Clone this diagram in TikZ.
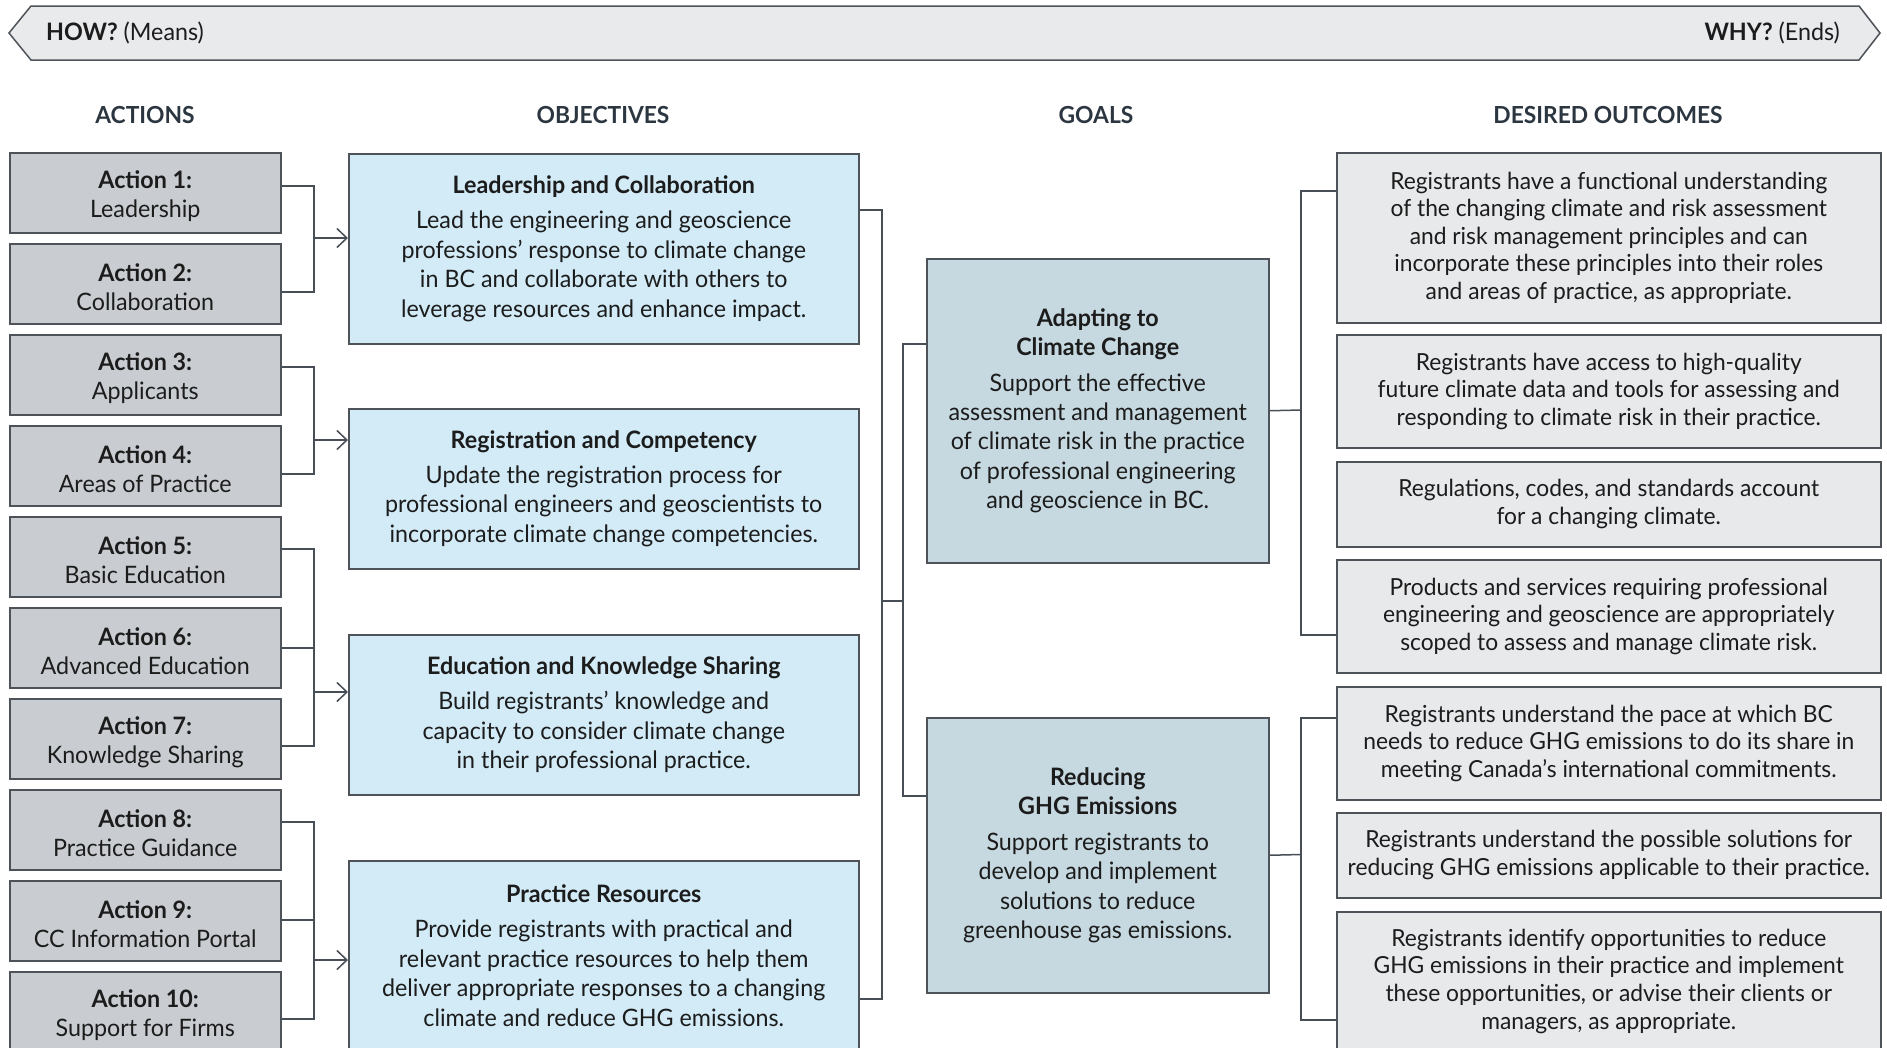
\documentclass[tikz,border=0pt]{standalone}
\usepackage{fontspec}
\setmainfont{Lato}[FakeStretch=0.97]
\usetikzlibrary{arrows.meta}
\definecolor{linec}{HTML}{474E55}
\definecolor{boxline}{HTML}{4D5359}
\definecolor{actfill}{HTML}{C9CDD1}
\definecolor{objfill}{HTML}{D2EBF7}
\definecolor{goalfill}{HTML}{C6D8E0}
\definecolor{outfill}{HTML}{E8E9EB}
\definecolor{bannerfill}{HTML}{E9EAEC}
\definecolor{txt}{HTML}{1C1C1C}
\definecolor{hdrc}{HTML}{2C3640}
\newcommand{\actfirst}{\rule{0pt}{25pt}}
\begin{document}
\begin{tikzpicture}[x=1pt,y=-1pt,
  box/.style={draw=boxline, line width=1.5pt, anchor=north west, inner sep=0pt, align=center, text=txt, font=\fontsize{24}{29.4}\selectfont},
  actbox/.style={box, fill=actfill, minimum width=271pt, minimum height=80pt, font=\fontsize{24}{29}\selectfont},
  objbox/.style={box, fill=objfill, minimum width=510pt},
  goalbox/.style={box, fill=goalfill, minimum width=342pt},
  outbox/.style={box, fill=outfill, minimum width=544pt, font=\fontsize{23.5}{27.6}\selectfont},
  hdr/.style={font=\fontsize{23.5}{28}\selectfont\bfseries, text=hdrc},
  bantext/.style={font=\fontsize{24}{28}\selectfont, text=txt, inner sep=0pt},
  conn/.style={draw=linec, line width=1.5pt},
  arr/.style={conn, -{Straight Barb[length=10pt,width=19pt]}}
]
\useasboundingbox (0,0) rectangle (1887,1047);
\clip (0,0) rectangle (1887,1047);

% banner
\draw[draw=boxline, fill=bannerfill, line width=1.5pt] (31,6) -- (1859,6) -- (1880,33) -- (1859,60) -- (31,60) -- (9,33) -- cycle;
\node[bantext, anchor=west] (how) at (46,33) {\textbf{HOW?} (Means)};
\node[bantext, anchor=east] (why) at (1840,33) {\textbf{WHY?} (Ends)};

% headers
\node[hdr] (h1) at (145,115.5) {ACTIONS};
\node[hdr] (h2) at (603,115.5) {OBJECTIVES};
\node[hdr] (h3) at (1096,115.5) {GOALS};
\node[hdr] (h4) at (1608,115.5) {DESIRED OUTCOMES};

% actions
\node[actbox] (a1) at (9,152) {\actfirst\textbf{Action 1:}\\Leadership};
\node[actbox] (a2) at (9,243) {\actfirst\textbf{Action 2:}\\Collaboration};
\node[actbox] (a3) at (9,334) {\actfirst\textbf{Action 3:}\\Applicants};
\node[actbox] (a4) at (9,425) {\actfirst\textbf{Action 4:}\\Areas of Practice};
\node[actbox] (a5) at (9,516) {\actfirst\textbf{Action 5:}\\Basic Education};
\node[actbox] (a6) at (9,607) {\actfirst\textbf{Action 6:}\\Advanced Education};
\node[actbox] (a7) at (9,698) {\actfirst\textbf{Action 7:}\\Knowledge Sharing};
\node[actbox] (a8) at (9,789) {\actfirst\textbf{Action 8:}\\Practice Guidance};
\node[actbox] (a9) at (9,880) {\actfirst\textbf{Action 9:}\\CC Information Portal};
\node[actbox] (a10) at (9,971) {\actfirst\textbf{Action 10:}\\Support for Firms};

% objectives
\node[objbox, minimum height=190pt] (o1) at (348,153) {\textbf{Leadership and Collaboration}\\[5.6pt]Lead the engineering and geoscience\\professions’ response to climate change\\in BC and collaborate with others to\\leverage resources and enhance impact.};
\node[objbox, minimum height=160pt] (o2) at (348,408) {\textbf{Registration and Competency}\\[5.6pt]Update the registration process for\\professional engineers and geoscientists to\\incorporate climate change competencies.};
\node[objbox, minimum height=160pt] (o3) at (348,634) {\textbf{Education and Knowledge Sharing}\\[5.6pt]Build registrants’ knowledge and\\capacity to consider climate change\\in their professional practice.};
\node[objbox, minimum height=190pt] (o4) at (348,860) {\textbf{Practice Resources}\\[5.6pt]Provide registrants with practical and\\relevant practice resources to help them\\deliver appropriate responses to a changing\\climate and reduce GHG emissions.};

% goals
\node[goalbox, minimum height=304pt] (g1) at (926,258) {\textbf{Adapting to}\\\textbf{Climate Change}\\[6pt]Support the effective\\assessment and management\\of climate risk in the practice\\of professional engineering\\and geoscience in BC.};
\node[goalbox, minimum height=275pt] (g2) at (926,717) {\textbf{Reducing}\\\textbf{GHG Emissions}\\[6pt]Support registrants to\\develop and implement\\solutions to reduce\\greenhouse gas emissions.};

% outcomes
\node[outbox, minimum height=170pt] (u1) at (1336,152) {Registrants have a functional understanding\\of the changing climate and risk assessment\\and risk management principles and can\\incorporate these principles into their roles\\and areas of practice, as appropriate.};
\node[outbox, minimum height=113pt] (u2) at (1336,334) {Registrants have access to high-quality\\future climate data and tools for assessing and\\responding to climate risk in their practice.};
\node[outbox, minimum height=85pt] (u3) at (1336,461) {Regulations, codes, and standards account\\for a changing climate.};
\node[outbox, minimum height=113pt] (u4) at (1336,559) {Products and services requiring professional\\engineering and geoscience are appropriately\\scoped to assess and manage climate risk.};
\node[outbox, minimum height=113pt] (u5) at (1336,686) {Registrants understand the pace at which BC\\needs to reduce GHG emissions to do its share in\\meeting Canada’s international commitments.};
\node[outbox, minimum height=85pt] (u6) at (1336,812) {Registrants understand the possible solutions for\\reducing GHG emissions applicable to their practice.};
\node[outbox, minimum height=139pt] (u7) at (1336,911) {Registrants identify opportunities to reduce\\GHG emissions in their practice and implement\\these opportunities, or advise their clients or\\managers, as appropriate.};

% action -> objective connectors
\coordinate (j1) at (314,238);
\coordinate (j2) at (314,440);
\coordinate (j3) at (314,692);
\coordinate (j4) at (314,960);
\draw[conn] ([yshift=7pt]a1.east) -| (j1);
\draw[conn] ([yshift=-8pt]a2.east) -| (j1);
\draw[arr] (j1) -- (j1 -| o1.west);
\draw[conn] ([yshift=8pt]a3.east) -| (j2);
\draw[conn] ([yshift=-8pt]a4.east) -| (j2);
\draw[arr] (j2) -- (j2 -| o2.west);
\draw[conn] ([yshift=8pt]a5.east) -| (j3);
\draw[conn] (a6.east) -- (a6.east -| j3);
\draw[conn] ([yshift=-7pt]a7.east) -| (j3);
\draw[arr] (j3) -- (j3 -| o3.west);
\draw[conn] ([yshift=8pt]a8.east) -| (j4);
\draw[conn] ([yshift=1pt]a9.east) -- ([yshift=1pt]a9.east -| j4);
\draw[conn] ([yshift=-7pt]a10.east) -| (j4);
\draw[arr] (j4) -- (j4 -| o4.west);

% objectives -> goals
\coordinate (m1) at (882,601);
\coordinate (m2) at (903,601);
\draw[conn] ([yshift=39pt]o1.east) -| (m1) |- ([yshift=-43pt]o4.east);
\draw[conn] (m1) -- (m2);
\draw[conn] ([yshift=67pt]g1.west) -| (m2) |- ([yshift=59.5pt]g2.west);

% goals -> outcomes
\coordinate (r1) at (1301,410);
\coordinate (r2) at (1301,854.5);
\draw[conn] ([yshift=47pt]u1.west) -| (r1) |- ([yshift=-18.5pt]u4.west);
\draw[conn] (g1.east) -- (r1);
\draw[conn] ([yshift=25.5pt]u5.west) -| (r2) |- ([yshift=-38.5pt]u7.west);
\draw[conn] (g2.east) -- (r2);
\end{tikzpicture}
\end{document}
